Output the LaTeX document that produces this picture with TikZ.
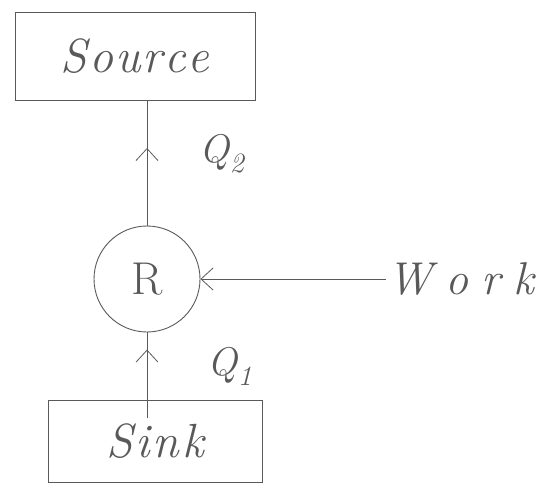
\documentclass[tikz,border=0pt]{standalone}
\usepackage{fontspec}
\usepackage{xcolor}
\usetikzlibrary{arrows.meta,positioning,calc,decorations.markings}

\definecolor{pencil}{gray}{0.35}

\begin{document}
\begin{tikzpicture}[
  x=1pt, y=-1pt,
  box/.style={draw=pencil, line width=0.9pt,
              font=\fontsize{48}{52}\selectfont\itshape, text=pencil},
  eng/.style={draw=pencil, circle, line width=0.9pt, minimum size=106pt,
              font=\fontsize{46}{50}\selectfont, text=pencil},
  lbl/.style={font=\fontsize{40}{44}\selectfont\itshape, text=pencil},
  ln/.style={draw=pencil, line width=0.8pt},
  ar/.style={ln, -{Straight Barb[length=12pt, width=22pt, line width=0.8pt]}},
  mid/.style={ln, postaction={decorate}, decoration={markings,
              mark=at position #1 with {\arrow{Straight Barb[length=12pt, width=22pt, line width=0.8pt]}}}}
]
  \useasboundingbox (0,0) rectangle (560,483);
  \node[box, minimum width=240pt, minimum height=88pt] (src) at (135,56) {S\kern2pt o\kern2pt u\kern2pt r\kern2pt c\kern2pt e};
  \node[eng] (r) at (147,279) {R};
  \node[box, minimum width=214pt, minimum height=82pt] (snk) at (155,441) {S\kern3pt i\kern3pt n\kern3pt k};
  \node[lbl, anchor=west, inner sep=1pt, font=\fontsize{46}{50}\selectfont\itshape]
       (work) at (386,279) {W\kern13pt o\kern13pt r\kern13pt k};
  \node[lbl] (q2) at (222,154) {Q\textsubscript{2}};
  \node[lbl] (q1) at (230,366) {Q\textsubscript{1}};
  \coordinate (q1s) at (147,418);
  % heat flows and work input
  \draw[mid=0.62] (r.north) -- (r.north |- src.south);
  \draw[mid=0.8] (q1s) -- (r.south);
  \draw[ar] (work.west) -- (r.east);
\end{tikzpicture}
\end{document}
